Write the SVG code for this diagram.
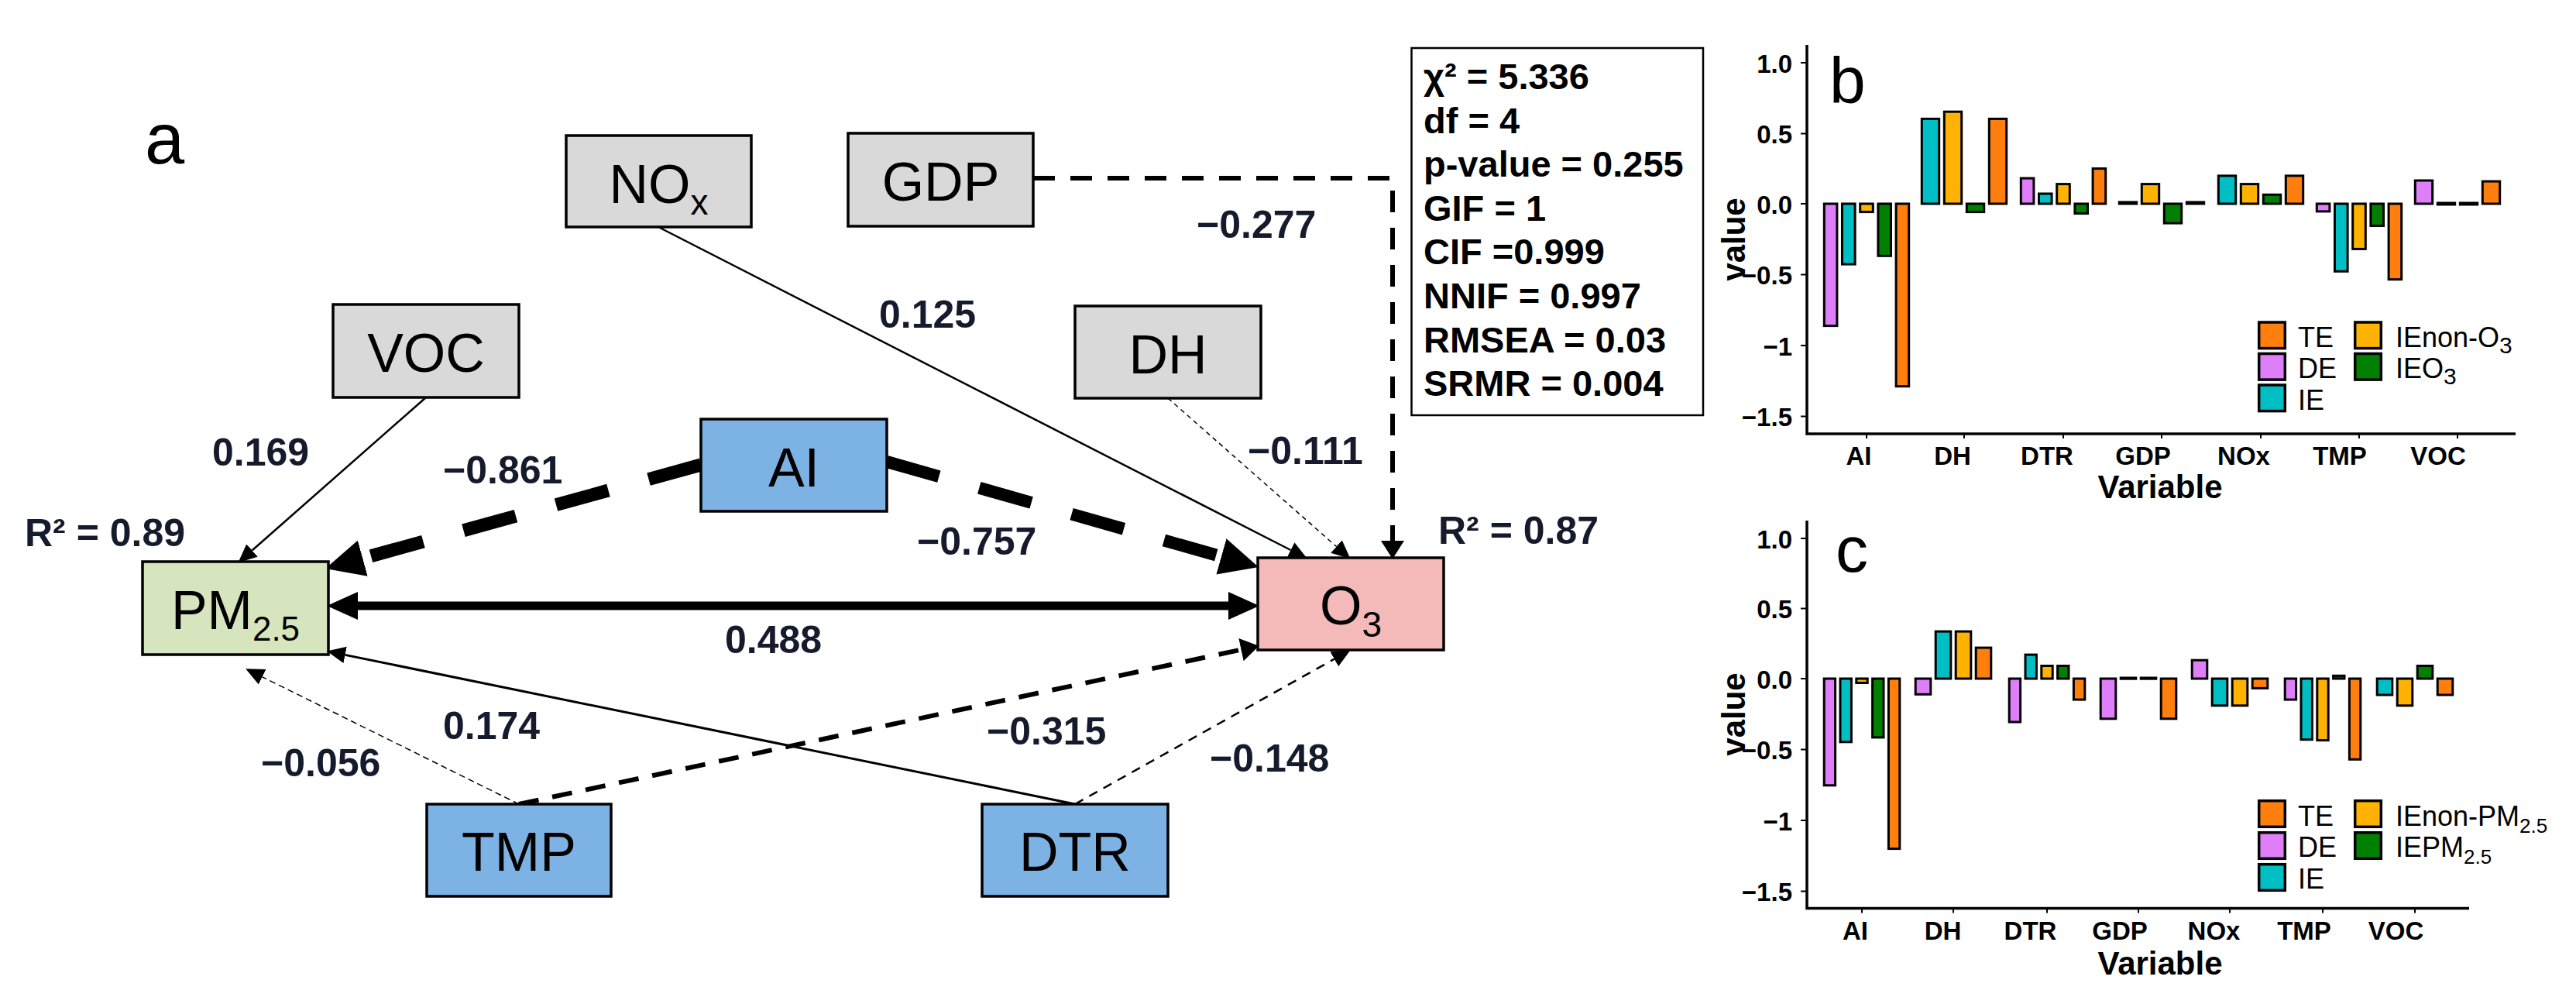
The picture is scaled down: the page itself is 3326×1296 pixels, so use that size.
<svg xmlns="http://www.w3.org/2000/svg" width="3326" height="1296" viewBox="0 0 3326 1296">
<style>
text{font-family:"Liberation Sans",Arial,sans-serif}
.box{stroke:#000;stroke-width:3.5}
.grey{fill:#d9d9d9}.blue{fill:#7db3e4}.pm{fill:#d6e5bd}.o3{fill:#f4b9b9}
.nt{font-size:70px;text-anchor:middle;fill:#000}
.cf{font-size:50px;font-weight:bold;fill:#151b2d}
.e{fill:none;stroke:#000}
.fit{font-size:47px;font-weight:bold;fill:#000}
.bar{stroke:#000;stroke-width:3}
.DE{fill:#df7ef9}.IE{fill:#00bfc4}.IEn{fill:#ffb300}.IEo{fill:#008000}.TE{fill:#ff7f0e}
.ax{stroke:#000;stroke-width:3.5;fill:none}
.tk{stroke:#000;stroke-width:2}
.tl{font-size:33px;font-weight:bold;text-anchor:end}
.xl{font-size:33px;font-weight:bold;text-anchor:middle}
.at{font-size:42px;font-weight:bold;text-anchor:middle}
.lg{font-size:36px}
.lk{stroke:#000;stroke-width:3.5}
.pl{font-size:84px}
</style>
<defs>
<marker id="hs" markerUnits="userSpaceOnUse" markerWidth="24" markerHeight="24" refX="0" refY="10" orient="auto" viewBox="0 0 22 20"><path d="M0,0 L22,10 L0,20 z" fill="#000" stroke="none"/></marker>
<marker id="hm" markerUnits="userSpaceOnUse" markerWidth="24" markerHeight="30" refX="0" refY="14" orient="auto" viewBox="0 0 22 28"><path d="M0,0 L22,14 L0,28 z" fill="#000" stroke="none"/></marker>
<marker id="hl" markerUnits="userSpaceOnUse" markerWidth="40" markerHeight="36" refX="0" refY="17" orient="auto-start-reverse" viewBox="0 0 38 34"><path d="M0,0 L38,17 L0,34 z" fill="#000" stroke="none"/></marker>
<marker id="hx" markerUnits="userSpaceOnUse" markerWidth="50" markerHeight="48" refX="0" refY="23" orient="auto" viewBox="0 0 48 46"><path d="M0,0 L48,23 L0,46 z" fill="#000" stroke="none"/></marker>
</defs>
<rect x="0" y="0" width="3326" height="1296" fill="#fff"/>

<text x="187" y="211" style="font-size:92px">a</text>

<g id="connectors">
<path class="e" d="M550,513 L325.5,710.5" stroke-width="2.5" marker-end="url(#hs)"/>
<path class="e" d="M850,293 L1666.4,710" stroke-width="2.5" marker-end="url(#hs)"/>
<path class="e" d="M1508,514 L1725.5,705.5" stroke-width="1.5" stroke-dasharray="6 5" marker-end="url(#hs)"/>
<path class="e" d="M1334,230 H1798 V698" stroke-width="6" stroke-dasharray="28 20" marker-end="url(#hm)"/>
<path class="e" d="M905,600 L468.3,720.7" stroke-width="17" stroke-dasharray="70 54" marker-end="url(#hx)"/>
<path class="e" d="M1145,596 L1576.9,718.4" stroke-width="16" stroke-dasharray="70 54" marker-end="url(#hx)"/>
<path class="e" d="M462,782 L1586,782" stroke-width="11" marker-start="url(#hl)" marker-end="url(#hl)"/>
<path class="e" d="M670,1038 L338.7,873.8" stroke-width="1.5" stroke-dasharray="8 5" marker-end="url(#hs)"/>
<path class="e" d="M670,1038 L1602.5,838.6" stroke-width="6" stroke-dasharray="26 18" marker-end="url(#hm)"/>
<path class="e" d="M1388,1038 L445.6,845.4" stroke-width="3" marker-end="url(#hs)"/>
<path class="e" d="M1388,1038 L1722.8,850.7" stroke-width="2.5" stroke-dasharray="12 9" marker-end="url(#hs)"/>
</g>

<g id="labels">
<text class="cf" x="274" y="601">0.169</text>
<text class="cf" x="572" y="624">−0.861</text>
<text class="cf" x="1135" y="423">0.125</text>
<text class="cf" x="1545" y="307">−0.277</text>
<text class="cf" x="1611" y="599">−0.111</text>
<text class="cf" x="1184" y="716">−0.757</text>
<text class="cf" x="936" y="843">0.488</text>
<text class="cf" x="572" y="954">0.174</text>
<text class="cf" x="337" y="1002">−0.056</text>
<text class="cf" x="1274" y="961">−0.315</text>
<text class="cf" x="1562" y="996">−0.148</text>
<text class="cf" x="32" y="705">R² = 0.89</text>
<text class="cf" x="1857" y="702">R² = 0.87</text>
</g>

<g id="node-NOx"><rect class="box grey" x="731" y="175" width="239" height="118"/><text class="nt" x="850.5" y="262">NO<tspan dy="15" style="font-size:46px">x</tspan></text></g>
<g id="node-GDP"><rect class="box grey" x="1095" y="172" width="239" height="120"/><text class="nt" x="1214.5" y="259">GDP</text></g>
<g id="node-VOC"><rect class="box grey" x="430" y="393" width="240" height="120"/><text class="nt" x="550" y="480">VOC</text></g>
<g id="node-DH"><rect class="box grey" x="1388" y="395" width="240" height="119"/><text class="nt" x="1508" y="482">DH</text></g>
<g id="node-AI"><rect class="box blue" x="905" y="541" width="240" height="119"/><text class="nt" x="1025" y="628">AI</text></g>
<g id="node-PM25"><rect class="box pm" x="184" y="725" width="240" height="120"/><text class="nt" x="304" y="812">PM<tspan dy="15" style="font-size:44px">2.5</tspan></text></g>
<g id="node-O3"><rect class="box o3" x="1624" y="720" width="240" height="119"/><text class="nt" x="1744" y="806">O<tspan dy="16" style="font-size:46px">3</tspan></text></g>
<g id="node-TMP"><rect class="box blue" x="551" y="1038" width="238" height="119"/><text class="nt" x="670" y="1124">TMP</text></g>
<g id="node-DTR"><rect class="box blue" x="1268" y="1038" width="240" height="119"/><text class="nt" x="1388" y="1124">DTR</text></g>

<g id="fit-box">
<rect x="1822.5" y="62" width="376.5" height="474" fill="#fff" stroke="#000" stroke-width="2.5"/>
<text class="fit" x="1838" y="115">χ² = 5.336</text>
<text class="fit" x="1838" y="172">df = 4</text>
<text class="fit" x="1838" y="228">p-value = 0.255</text>
<text class="fit" x="1838" y="285">GIF = 1</text>
<text class="fit" x="1838" y="341">CIF =0.999</text>
<text class="fit" x="1838" y="398">NNIF = 0.997</text>
<text class="fit" x="1838" y="455">RMSEA = 0.03</text>
<text class="fit" x="1838" y="511">SRMR = 0.004</text>
</g>

<g id="panel-b">
<text class="pl" x="2362" y="133">b</text>
<g id="b-bars">
<rect class="bar DE" x="2355.3" y="263" width="16.6" height="157.6"/>
<rect class="bar IE" x="2378.5" y="263" width="16.6" height="78.1"/>
<rect class="bar IEn" x="2401.7" y="263" width="16.6" height="10.6"/>
<rect class="bar IEo" x="2424.9" y="263" width="16.6" height="67.3"/>
<rect class="bar TE" x="2448.1" y="263" width="16.6" height="235.7"/>

<rect class="bar IE" x="2481.3" y="153.4" width="22.4" height="109.6"/>
<rect class="bar IEn" x="2510.3" y="144.2" width="22.4" height="118.8"/>
<rect class="bar IEo" x="2539.3" y="263" width="22.4" height="10.6"/>
<rect class="bar TE" x="2568.3" y="153.4" width="22.4" height="109.6"/>

<rect class="bar DE" x="2609.3" y="230.1" width="16.6" height="32.9"/>
<rect class="bar IE" x="2632.5" y="250" width="16.6" height="13"/>
<rect class="bar IEn" x="2655.7" y="237.6" width="16.6" height="25.4"/>
<rect class="bar IEo" x="2678.9" y="263" width="16.6" height="12.6"/>
<rect class="bar TE" x="2702.1" y="217.6" width="16.6" height="45.4"/>

<rect class="bar IE" x="2736.3" y="261" width="22.4" height="2"/>
<rect class="bar IEn" x="2765.3" y="237.6" width="22.4" height="25.4"/>
<rect class="bar IEo" x="2794.3" y="263" width="22.4" height="25.1"/>
<rect class="bar TE" x="2823.3" y="261" width="22.4" height="2"/>

<rect class="bar IE" x="2864.3" y="226.9" width="22.4" height="36.1"/>
<rect class="bar IEn" x="2893.3" y="237.6" width="22.4" height="25.4"/>
<rect class="bar IEo" x="2922.3" y="251.3" width="22.4" height="11.7"/>
<rect class="bar TE" x="2951.3" y="226.9" width="22.4" height="36.1"/>

<rect class="bar DE" x="2991.3" y="263" width="16.6" height="9.9"/>
<rect class="bar IE" x="3014.5" y="263" width="16.6" height="87.3"/>
<rect class="bar IEn" x="3037.7" y="263" width="16.6" height="58.4"/>
<rect class="bar IEo" x="3060.9" y="263" width="16.6" height="28.5"/>
<rect class="bar TE" x="3084.1" y="263" width="16.6" height="97.7"/>

<rect class="bar DE" x="3118.3" y="233" width="22.4" height="30"/>
<rect class="bar IE" x="3147.3" y="262" width="22.4" height="2"/>
<rect class="bar IEn" x="3176.3" y="262" width="22.4" height="2"/>
<rect class="bar TE" x="3205.3" y="234.1" width="22.4" height="28.9"/>
</g>
<path class="ax" d="M2333,58 V560 H3248"/>
<path class="tk" d="M2325,81 H2333 M2325,172.5 H2333 M2325,263 H2333 M2325,354.5 H2333 M2325,446 H2333 M2325,537.5 H2333 M2410,560 V566 M2536,560 V566 M2664,560 V566 M2791,560 V566 M2919,560 V566 M3046,560 V566 M3173,560 V566"/>
<text class="tl" x="2314" y="93.5">1.0</text>
<text class="tl" x="2314" y="185">0.5</text>
<text class="tl" x="2314" y="275.5">0.0</text>
<text class="tl" x="2314" y="367">−0.5</text>
<text class="tl" x="2314" y="458.5">−1</text>
<text class="tl" x="2314" y="550">−1.5</text>
<text class="xl" x="2400" y="600">AI</text>
<text class="xl" x="2521" y="600">DH</text>
<text class="xl" x="2643" y="600">DTR</text>
<text class="xl" x="2767" y="600">GDP</text>
<text class="xl" x="2897" y="600">NOx</text>
<text class="xl" x="3021" y="600">TMP</text>
<text class="xl" x="3148" y="600">VOC</text>
<text class="at" x="2789" y="643">Variable</text>
<text class="at" transform="translate(2253,309) rotate(-90)">value</text>
<g id="b-legend">
<rect class="lk TE" x="2916.7" y="416" width="33.6" height="33.6"/>
<rect class="lk DE" x="2916.7" y="456.5" width="33.6" height="33.6"/>
<rect class="lk IE" x="2916.7" y="497" width="33.6" height="33.6"/>
<rect class="lk IEn" x="3040.7" y="416" width="33.6" height="33.6"/>
<rect class="lk IEo" x="3040.7" y="456.5" width="33.6" height="33.6"/>
<text class="lg" x="2967" y="448">TE</text>
<text class="lg" x="2967" y="488">DE</text>
<text class="lg" x="2967" y="529">IE</text>
<text class="lg" x="3093" y="448">IEnon-O<tspan dy="8" style="font-size:30px">3</tspan></text>
<text class="lg" x="3093" y="488">IEO<tspan dy="8" style="font-size:30px">3</tspan></text>
</g>
</g>

<g id="panel-c">
<text class="pl" x="2370" y="738">c</text>
<g id="c-bars">
<rect class="bar DE" x="2355.2" y="876" width="14.4" height="137.8"/>
<rect class="bar IE" x="2376" y="876" width="14.4" height="81.8"/>
<rect class="bar IEn" x="2396.8" y="876" width="14.4" height="5.5"/>
<rect class="bar IEo" x="2417.6" y="876" width="14.4" height="75.9"/>
<rect class="bar TE" x="2438.4" y="876" width="14.4" height="219.6"/>

<rect class="bar DE" x="2473.2" y="876" width="19.6" height="20.3"/>
<rect class="bar IE" x="2499.2" y="815.1" width="19.6" height="60.9"/>
<rect class="bar IEn" x="2525.2" y="815.1" width="19.6" height="60.9"/>
<rect class="bar TE" x="2551.2" y="836.1" width="19.6" height="39.9"/>

<rect class="bar DE" x="2594.2" y="876" width="14.4" height="56"/>
<rect class="bar IE" x="2615" y="845.1" width="14.4" height="30.9"/>
<rect class="bar IEn" x="2635.8" y="859.5" width="14.4" height="16.5"/>
<rect class="bar IEo" x="2656.6" y="859.5" width="14.4" height="16.5"/>
<rect class="bar TE" x="2677.4" y="876" width="14.4" height="27.1"/>

<rect class="bar DE" x="2712.2" y="876" width="19.6" height="51.8"/>
<rect class="bar IE" x="2738.2" y="875" width="19.6" height="1.2"/>
<rect class="bar IEn" x="2764.2" y="875" width="19.6" height="1.2"/>
<rect class="bar TE" x="2790.2" y="876" width="19.6" height="51.8"/>

<rect class="bar DE" x="2830.2" y="852.2" width="19.6" height="23.8"/>
<rect class="bar IE" x="2856.2" y="876" width="19.6" height="34.8"/>
<rect class="bar IEn" x="2882.2" y="876" width="19.6" height="34.8"/>
<rect class="bar TE" x="2908.2" y="876" width="19.6" height="12.4"/>

<rect class="bar DE" x="2950.2" y="876" width="14.4" height="27.1"/>
<rect class="bar IE" x="2971" y="876" width="14.4" height="78.7"/>
<rect class="bar IEn" x="2991.8" y="876" width="14.4" height="79.6"/>
<rect class="bar IEo" x="3012.6" y="872.3" width="14.4" height="3.7"/>
<rect class="bar TE" x="3033.4" y="876" width="14.4" height="104.3"/>

<rect class="bar IE" x="3069.2" y="876" width="19.6" height="21"/>
<rect class="bar IEn" x="3095.2" y="876" width="19.6" height="34.8"/>
<rect class="bar IEo" x="3121.2" y="859.5" width="19.6" height="16.5"/>
<rect class="bar TE" x="3147.2" y="876" width="19.6" height="21"/>
</g>
<path class="ax" d="M2333,672 V1172.5 H3188"/>
<path class="tk" d="M2325,695 H2333 M2325,785.5 H2333 M2325,876 H2333 M2325,967.5 H2333 M2325,1059 H2333 M2325,1150.5 H2333 M2404,1172.5 V1178.5 M2522,1172.5 V1178.5 M2643,1172.5 V1178.5 M2761,1172.5 V1178.5 M2879,1172.5 V1178.5 M2999,1172.5 V1178.5 M3118,1172.5 V1178.5"/>
<text class="tl" x="2314" y="707.5">1.0</text>
<text class="tl" x="2314" y="798">0.5</text>
<text class="tl" x="2314" y="888.5">0.0</text>
<text class="tl" x="2314" y="980">−0.5</text>
<text class="tl" x="2314" y="1071.5">−1</text>
<text class="tl" x="2314" y="1163">−1.5</text>
<text class="xl" x="2395.5" y="1213">AI</text>
<text class="xl" x="2508.5" y="1213">DH</text>
<text class="xl" x="2621.5" y="1213">DTR</text>
<text class="xl" x="2737" y="1213">GDP</text>
<text class="xl" x="2858.5" y="1213">NOx</text>
<text class="xl" x="2975" y="1213">TMP</text>
<text class="xl" x="3093.5" y="1213">VOC</text>
<text class="at" x="2789" y="1258">Variable</text>
<text class="at" transform="translate(2253,922) rotate(-90)">value</text>
<g id="c-legend">
<rect class="lk TE" x="2916.7" y="1033.7" width="33.6" height="33.6"/>
<rect class="lk DE" x="2916.7" y="1074.7" width="33.6" height="33.6"/>
<rect class="lk IE" x="2916.7" y="1115.7" width="33.6" height="33.6"/>
<rect class="lk IEn" x="3040.7" y="1033.7" width="33.6" height="33.6"/>
<rect class="lk IEo" x="3040.7" y="1074.7" width="33.6" height="33.6"/>
<text class="lg" x="2967" y="1066">TE</text>
<text class="lg" x="2967" y="1106">DE</text>
<text class="lg" x="2967" y="1147">IE</text>
<text class="lg" x="3093" y="1066">IEnon-PM<tspan dy="9" style="font-size:26px">2.5</tspan></text>
<text class="lg" x="3093" y="1106">IEPM<tspan dy="9" style="font-size:26px">2.5</tspan></text>
</g>
</g>
</svg>
